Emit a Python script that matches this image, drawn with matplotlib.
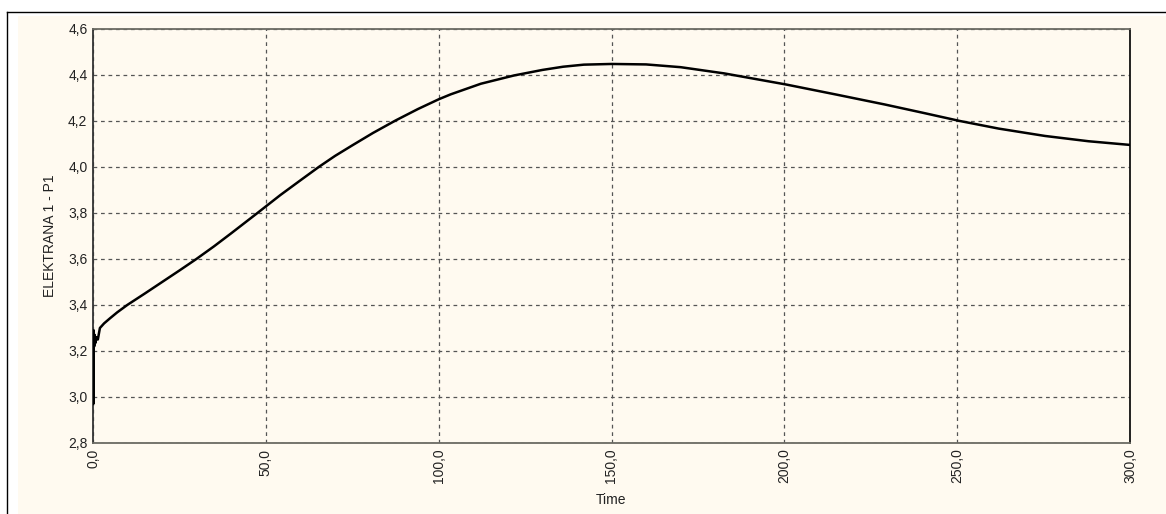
import matplotlib
matplotlib.use("Agg")
import matplotlib.pyplot as plt
from matplotlib.patches import Rectangle
from matplotlib.lines import Line2D
from matplotlib.ticker import FuncFormatter, MultipleLocator

# values (time, power)
TIME = [0.0, 0.1, 0.2, 0.35, 0.5, 0.7, 1.0, 1.4, 2.0, 3.2, 4.9, 7.0, 9.9,
        15.0, 20.0, 25.0, 29.9, 35.0, 40.0, 47.4, 54.2, 60.0, 65.3, 70.0,
        75.0, 81.0, 87.5, 94.0, 100.1, 103.5, 112.2, 121.8, 130.0, 136.0,
        142.0, 150.0, 160.0, 170.0, 182.6, 190.4, 200.4, 215.0, 229.0,
        240.0, 250.8, 262.0, 275.4, 288.0, 300.0]
P1 = [3.28, 2.97, 3.29, 3.22, 3.27, 3.235, 3.26, 3.25, 3.30, 3.32, 3.342,
      3.368, 3.40, 3.45, 3.50, 3.55, 3.60, 3.655, 3.712, 3.798, 3.878,
      3.942, 4.00, 4.048, 4.094, 4.148, 4.202, 4.252, 4.295, 4.316, 4.362,
      4.398, 4.422, 4.436, 4.445, 4.448, 4.446, 4.434, 4.407, 4.386,
      4.359, 4.315, 4.272, 4.236, 4.200, 4.167, 4.135, 4.112, 4.096]

CREAM = "#fffaf0"
INK = "#222222"
plt.rcParams["font.family"] = ["Liberation Sans", "DejaVu Sans"]

fig = plt.figure(figsize=(11.66, 5.14), dpi=100)
fig.patch.set_facecolor("white")

# cream panel + black frame lines like the original app window
fig.add_artist(Rectangle((18 / 1166, 0), 1, 1 - 16 / 514,
                         transform=fig.transFigure, facecolor=CREAM,
                         edgecolor="none", zorder=0))
fig.add_artist(Line2D([7 / 1166, 1], [1 - 12 / 514] * 2,
                      transform=fig.transFigure, color="black", lw=1))
fig.add_artist(Line2D([7 / 1166] * 2, [0, 1 - 12 / 514],
                      transform=fig.transFigure, color="black", lw=1))

ax = fig.add_axes([93 / 1166, 1 - 443 / 514, (1130 - 93) / 1166, (443 - 29) / 514])
ax.set_facecolor(CREAM)
ax.plot(TIME, P1, color="black", lw=1.8, zorder=3)

ax.set_xlim(0, 300)
ax.set_ylim(2.8, 4.6)
ax.xaxis.set_major_locator(MultipleLocator(50))
ax.yaxis.set_major_locator(MultipleLocator(0.2))
comma = FuncFormatter(lambda v, _: f"{v:.1f}".replace(".", ","))
ax.xaxis.set_major_formatter(comma)
ax.yaxis.set_major_formatter(comma)
ax.tick_params(length=0, labelsize=10, colors=INK)
ax.tick_params(axis="x", pad=4, labelrotation=90)
ax.tick_params(axis="y", pad=4)

ax.grid(True, color="#555555", ls=(0, (3, 3)), lw=0.9)
ax.spines["top"].set_color("#6b6b63")
ax.spines["bottom"].set_color("#6b6b63")
ax.spines["left"].set_color("#333333")
ax.spines["right"].set_color("#111111")
for s in ax.spines.values():
    s.set_linewidth(1.3)

ax.set_xlabel("Time", fontsize=10, color=INK, labelpad=7)
ax.set_ylabel("ELEKTRANA 1 - P1", fontsize=10, color=INK, labelpad=8)

fig.savefig("out.png", dpi=100, facecolor="white")
